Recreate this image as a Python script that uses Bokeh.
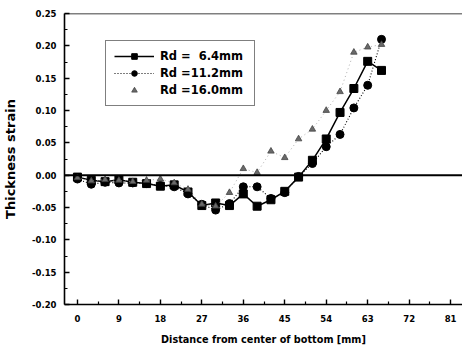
from bokeh.plotting import figure
from bokeh.models import (Range1d, FixedTicker, NumeralTickFormatter, Span, Legend, LegendItem)
from bokeh.embed import file_html
from bokeh.resources import INLINE

# ---- data ----
distance = [0, 3, 6, 9, 12, 15, 18, 21, 24, 27, 30, 33, 36, 39, 42, 45, 48, 51, 54, 57, 60, 63, 66]
rd_6_4 = [-0.003, -0.008, -0.010, -0.007, -0.011, -0.013, -0.017, -0.015, -0.026, -0.047, -0.043, -0.047,
          -0.029, -0.048, -0.038, -0.025, -0.003, 0.023, 0.056, 0.097, 0.134, 0.176, 0.162]
rd_11_2 = [-0.006, -0.014, -0.011, -0.012, -0.012, -0.013, -0.016, -0.018, -0.029, -0.045, -0.054, -0.044,
           -0.018, -0.018, -0.036, -0.027, -0.002, 0.018, 0.044, 0.063, 0.104, 0.139, 0.210]
rd_16_0 = [-0.004, -0.009, -0.007, -0.008, -0.010, -0.008, -0.006, -0.012, -0.022, -0.045, -0.048, -0.027,
           0.010, 0.004, 0.037, 0.027, 0.056, 0.071, 0.100, 0.129, 0.190, 0.198, 0.202]
series_labels = ["Rd =\u00a0\u00a06.4mm", "Rd =11.2mm", "Rd =16.0mm"]
x_ticks = [0, 9, 18, 27, 36, 45, 54, 63, 72, 81]
x_minor = [4.5, 13.5, 22.5, 31.5, 40.5, 49.5, 58.5, 67.5, 76.5]
y_ticks = [-0.20, -0.15, -0.10, -0.05, 0.00, 0.05, 0.10, 0.15, 0.20, 0.25]
y_minor = [-0.175, -0.125, -0.075, -0.025, 0.025, 0.075, 0.125, 0.175, 0.225]

FONT = "DejaVu Sans"

p = figure(width=462, height=352, output_backend="svg", toolbar_location=None,
           x_range=Range1d(-2.81, 83.58), y_range=Range1d(-0.20, 0.25),
           min_border_left=62, min_border_right=0, min_border_top=13, min_border_bottom=48)
p.outline_line_color = None
p.xgrid.visible = False
p.ygrid.visible = False
p.background_fill_color = "white"

# axes
for ax in (p.xaxis[0], p.yaxis[0]):
    ax.axis_line_width = 1.6
    ax.axis_line_color = "black"
    ax.major_tick_in = 5
    ax.major_tick_out = 0
    ax.minor_tick_in = 3
    ax.minor_tick_out = 0
    ax.major_tick_line_width = 1.4
    ax.minor_tick_line_width = 1.2
    ax.major_label_text_font = FONT
    ax.major_label_text_font_style = "bold"
    ax.major_label_text_font_size = "8.5px"
    ax.major_label_text_color = "black"
    ax.axis_label_text_font = FONT
    ax.axis_label_text_font_style = "bold"
    ax.axis_label_text_color = "black"

p.xaxis.ticker = FixedTicker(ticks=x_ticks, minor_ticks=x_minor)
p.yaxis.ticker = FixedTicker(ticks=y_ticks, minor_ticks=y_minor)
p.yaxis.formatter = NumeralTickFormatter(format="0.00")
p.xaxis.major_label_standoff = 10
p.yaxis.major_label_standoff = 8
p.xaxis.axis_label = "Distance from center of bottom [mm]"
p.yaxis.axis_label = "Thickness strain"
p.xaxis.axis_label_text_font_size = "9.7px"
p.yaxis.axis_label_text_font_size = "13px"
p.xaxis.axis_label_standoff = 9
p.yaxis.axis_label_standoff = 11

# reference lines
p.add_layout(Span(location=0, dimension="width", line_color="black", line_width=2))
p.add_layout(Span(location=0.25, dimension="width", line_color="black", line_width=1.6))

# series
l1 = p.line(distance, rd_6_4, line_color="black", line_width=1.5)
m1 = p.scatter(distance, rd_6_4, marker="square", size=8, fill_color="black", line_color="black")
l2 = p.line(distance, rd_11_2, line_color="black", line_width=1.1, line_dash="1 2")
m2 = p.scatter(distance, rd_11_2, marker="circle", size=8, fill_color="black", line_color="black")
l3 = p.line(distance, rd_16_0, line_color="#999999", line_width=0.8, line_dash="1 3")
m3 = p.scatter(distance, rd_16_0, marker="triangle", size=6.5, fill_color="#6a6a6a", line_color="#444444",
               line_width=0.8)

legend = Legend(items=[
    LegendItem(label=series_labels[0], renderers=[l1, m1]),
    LegendItem(label=series_labels[1], renderers=[l2, m2]),
    LegendItem(label=series_labels[2], renderers=[m3]),
], location=(41, 198))
legend.label_text_font = FONT
legend.label_text_font_style = "bold"
legend.label_text_font_size = "11.5px"
legend.label_text_color = "black"
legend.glyph_width = 40
legend.glyph_height = 14
legend.label_height = 14
legend.label_width = 86
legend.label_standoff = 6
legend.spacing = 3
legend.padding = 8
legend.margin = 0
legend.border_line_color = "black"
legend.border_line_width = 1.6
legend.background_fill_color = "white"
legend.background_fill_alpha = 1
p.add_layout(legend, "center")

open("out.html", "w").write(file_html(p, INLINE))
